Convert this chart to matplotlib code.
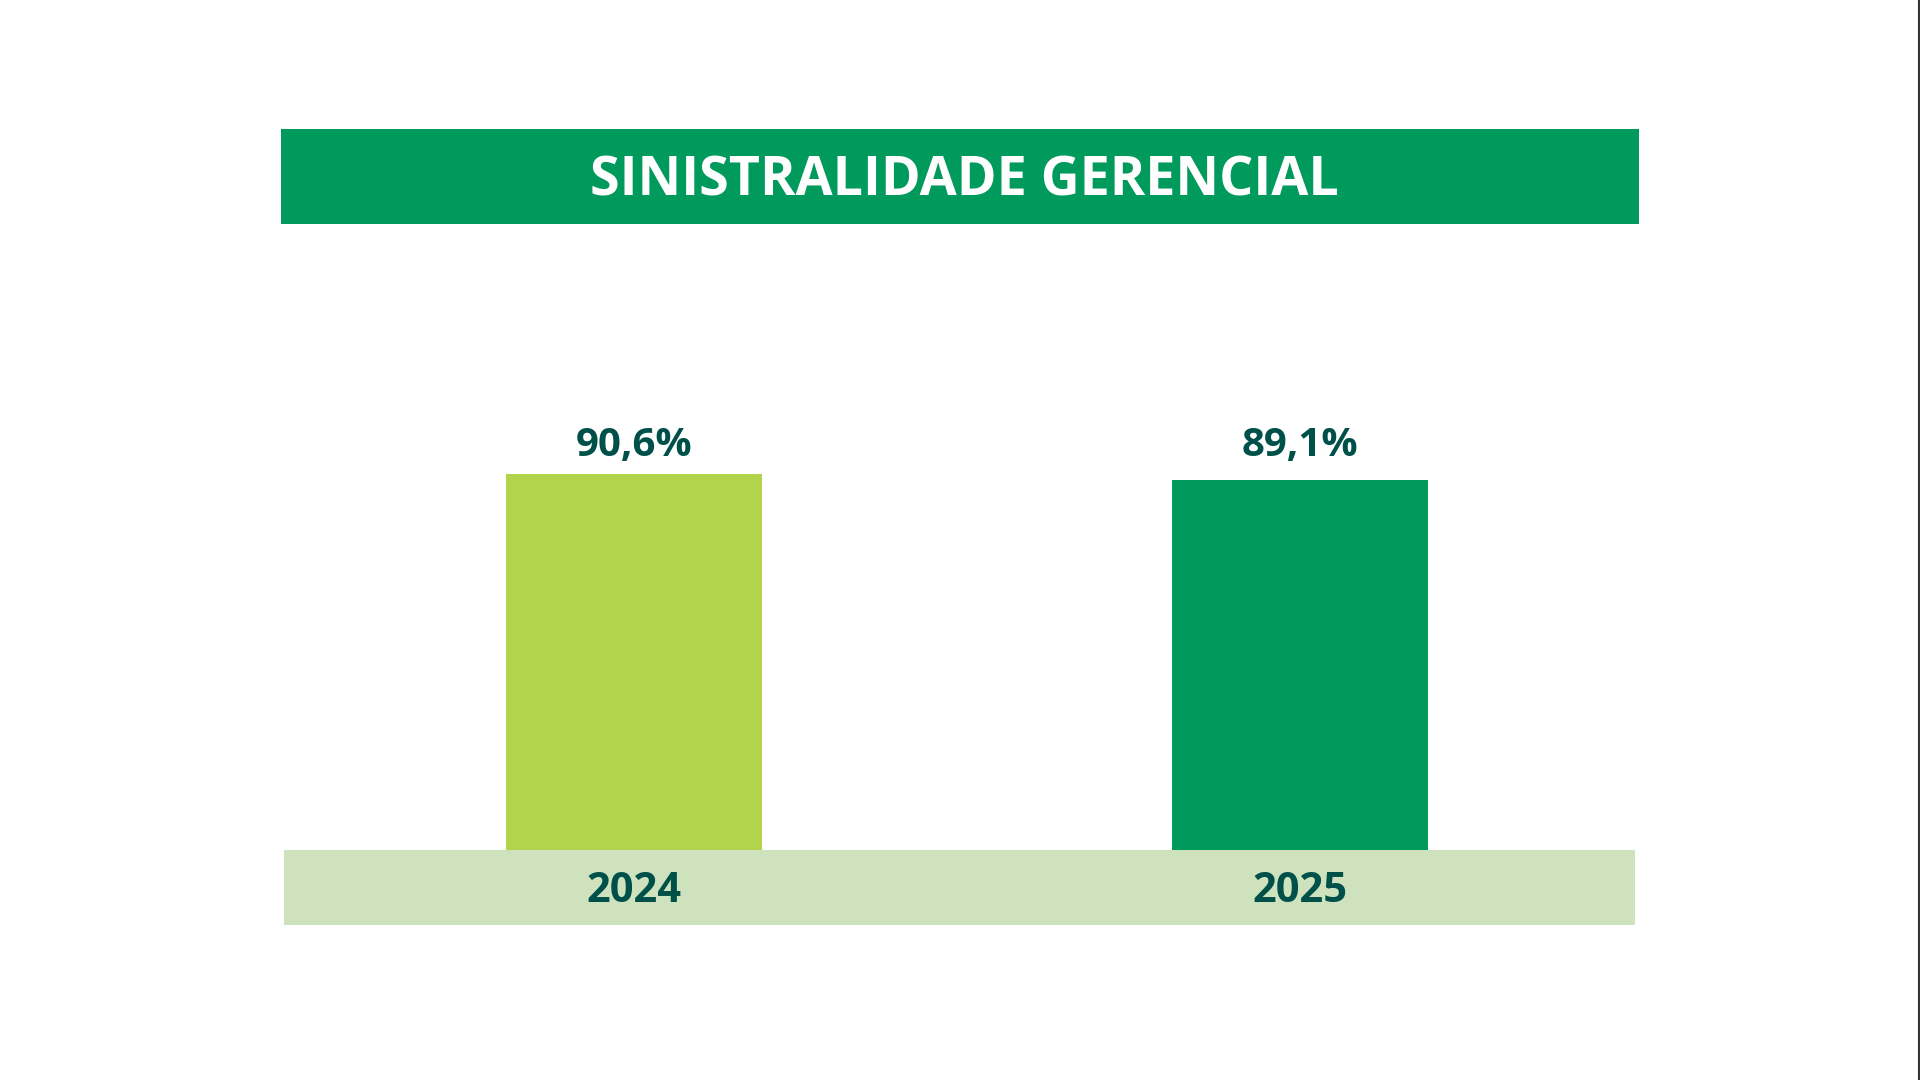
import matplotlib
matplotlib.use("Agg")
import matplotlib.pyplot as plt
from matplotlib.patches import Rectangle

title = "SINISTRALIDADE GERENCIAL"
years = ["2024", "2025"]
values = [90.6, 89.1]
value_labels = ["90,6%", "89,1%"]

W, H = 1920, 1080
fig = plt.figure(figsize=(W / 100, H / 100), dpi=100)
fig.patch.set_facecolor("white")

GREEN = "#009A5D"
LIME = "#B2D44D"
STRIP = "#CEE3BD"
TEXT = "#00504A"
FONT = ["Open Sans", "DejaVu Sans"]

def fx(px):
    return px / W

def fy(py):
    return 1 - py / H

# title banner
fig.patches.append(Rectangle((fx(281), fy(224)), fx(1639) - fx(281), fy(129) - fy(224),
                             transform=fig.transFigure, facecolor=GREEN, edgecolor="none", zorder=-1))
fig.text(fx(964), fy(195), title, color="white", fontsize=38.7, fontweight="bold",
         family=FONT, ha="center", va="baseline")

# strip under bars
fig.patches.append(Rectangle((fx(284), fy(925)), fx(1635) - fx(284), fy(850) - fy(925),
                             transform=fig.transFigure, facecolor=STRIP, edgecolor="none", zorder=-1))

# right border line
fig.add_artist(plt.Line2D([fx(1918.5), fx(1918.5)], [0, 1], transform=fig.transFigure,
                          color="#333333", linewidth=1.5))

ax_left, ax_right = 284, 1635
ax_bottom, ax_top = 850, 435
ax = fig.add_axes([fx(ax_left), fy(ax_bottom), fx(ax_right) - fx(ax_left), fy(ax_top) - fy(ax_bottom)])
ax.set_zorder(2)
ax.set_facecolor("none")
x = list(range(len(years)))
bars = ax.bar(x, values, width=0.384, color=[LIME, GREEN], zorder=2)
ax.set_ylim(0, 100)
ax.set_xlim(-0.5255, 1.503)
for s in ax.spines.values():
    s.set_visible(False)
ax.set_yticks([])
ax.set_xticks(x)
ax.set_xticklabels(years, fontsize=30, fontweight="bold", color=TEXT, family=FONT)
ax.tick_params(axis="x", length=0, pad=41 * 72 / 100)
for lbl in ax.get_xticklabels():
    lbl.set_va("center")

top = max(values)
for xi, v, lab in zip(x, values, value_labels):
    ax.annotate(lab, (xi, top), xytext=(0, 13), textcoords="offset points",
                ha="center", va="baseline", fontsize=29, fontweight="bold",
                color=TEXT, family=FONT)

fig.savefig("out.png", dpi=100, facecolor="white")
